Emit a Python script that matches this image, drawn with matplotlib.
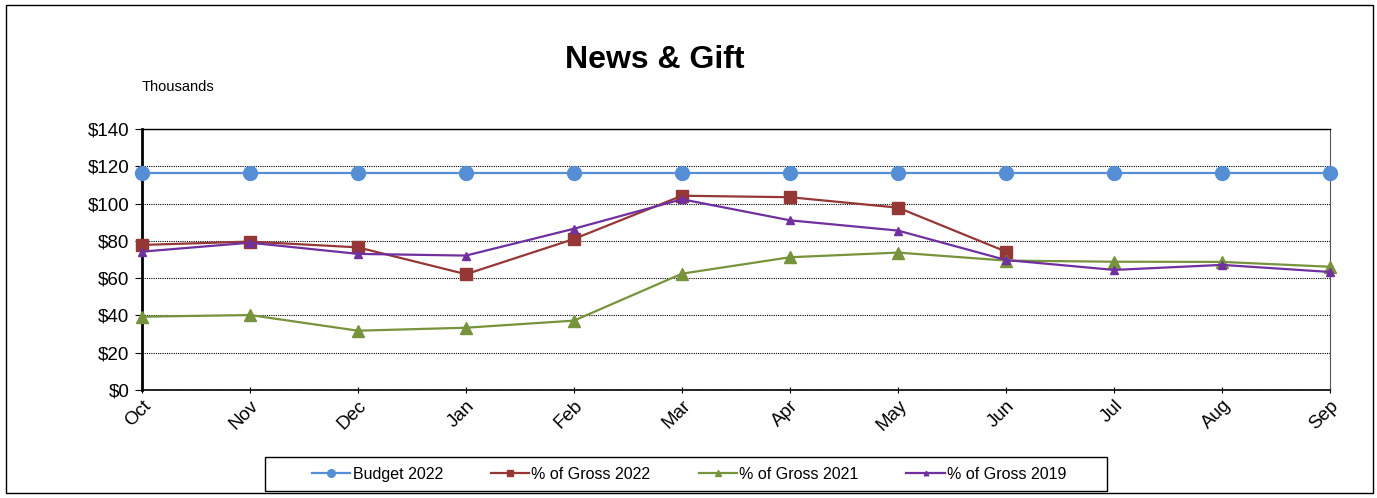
import matplotlib.pyplot as plt
from matplotlib.ticker import FuncFormatter, MultipleLocator

plt.rcParams['font.family'] = ['Liberation Sans', 'DejaVu Sans']

# monthly values, in thousands of dollars
months = ["Oct", "Nov", "Dec", "Jan", "Feb", "Mar", "Apr", "May", "Jun", "Jul", "Aug", "Sep"]
budget_2022 = [116.5] * 12
gross_2022 = [77.8, 79.6, 76.5, 62.1, 81.0, 104.2, 103.4, 97.8, 74.2]
gross_2021 = [39.3, 40.2, 31.8, 33.4, 37.2, 62.4, 71.2, 73.7, 69.4, 68.8, 68.7, 66.1]
gross_2019 = [74.2, 79.0, 73.0, 72.1, 86.5, 102.3, 91.0, 85.5, 69.7, 64.4, 67.1, 63.3]

fig = plt.figure(figsize=(13.77, 4.98), dpi=100)
ax = fig.add_axes([0.1031, 0.2169, 0.8628, 0.5241])

x = list(range(len(months)))
ax.plot(x, budget_2022, color="#558ED5", lw=1.6, marker="o", ms=10, clip_on=False,
        zorder=3, label="Budget 2022")
ax.plot(x[:len(gross_2022)], gross_2022, color="#953735", lw=1.6, marker="s", ms=9,
        clip_on=False, zorder=3, label="% of Gross 2022")
ax.plot(x, gross_2021, color="#77933C", lw=1.6, marker="^", ms=9, clip_on=False,
        zorder=3, label="% of Gross 2021")
ax.plot(x, gross_2019, color="#7030A0", lw=1.6, marker="^", ms=6, clip_on=False,
        zorder=3, label="% of Gross 2019")

ax.set_xlim(0, 11)
ax.set_ylim(0, 140)
ax.set_xticks(x)
ax.set_xticklabels(months, rotation=45, ha="right", rotation_mode="anchor", fontsize=13.5)
ax.yaxis.set_major_locator(MultipleLocator(20))
ax.yaxis.set_major_formatter(FuncFormatter(lambda v, p: f"${v:.0f}"))
ax.tick_params(axis="y", labelsize=13.5, length=5, direction="out", pad=4)
ax.tick_params(axis="x", length=4, direction="inout", pad=3)
ax.grid(axis="y", color="black", ls=(0, (1, 1)), lw=0.8)
ax.set_axisbelow(True)

ax.spines["left"].set_linewidth(2)
ax.spines["bottom"].set_linewidth(1.2)
ax.spines["top"].set_linewidth(1)
ax.spines["right"].set_color("#555555")

fig.text(0.4757, 0.88, "News & Gift", ha="center", va="center", fontsize=23, fontweight="bold")
fig.text(0.103, 0.825, "Thousands", ha="left", va="center", fontsize=10.5)

fig.legend(loc="center", bbox_to_anchor=(0.5005, 0.048), ncol=4, fontsize=11.5,
           frameon=False, columnspacing=3.0, handlelength=2.4, handletextpad=0.15,
           markerscale=0.55, borderaxespad=0)

# legend box, wider than the entries
fig.patches.append(plt.Rectangle((0.1924, 0.0141), 0.6115, 0.0683, transform=fig.transFigure,
                                 fill=False, edgecolor="black", lw=1))

# thin border round the whole figure
fig.patches.append(plt.Rectangle((0.004, 0.01), 0.993, 0.98, transform=fig.transFigure,
                                 fill=False, edgecolor="black", lw=1))

fig.savefig("out.png", dpi=100)
